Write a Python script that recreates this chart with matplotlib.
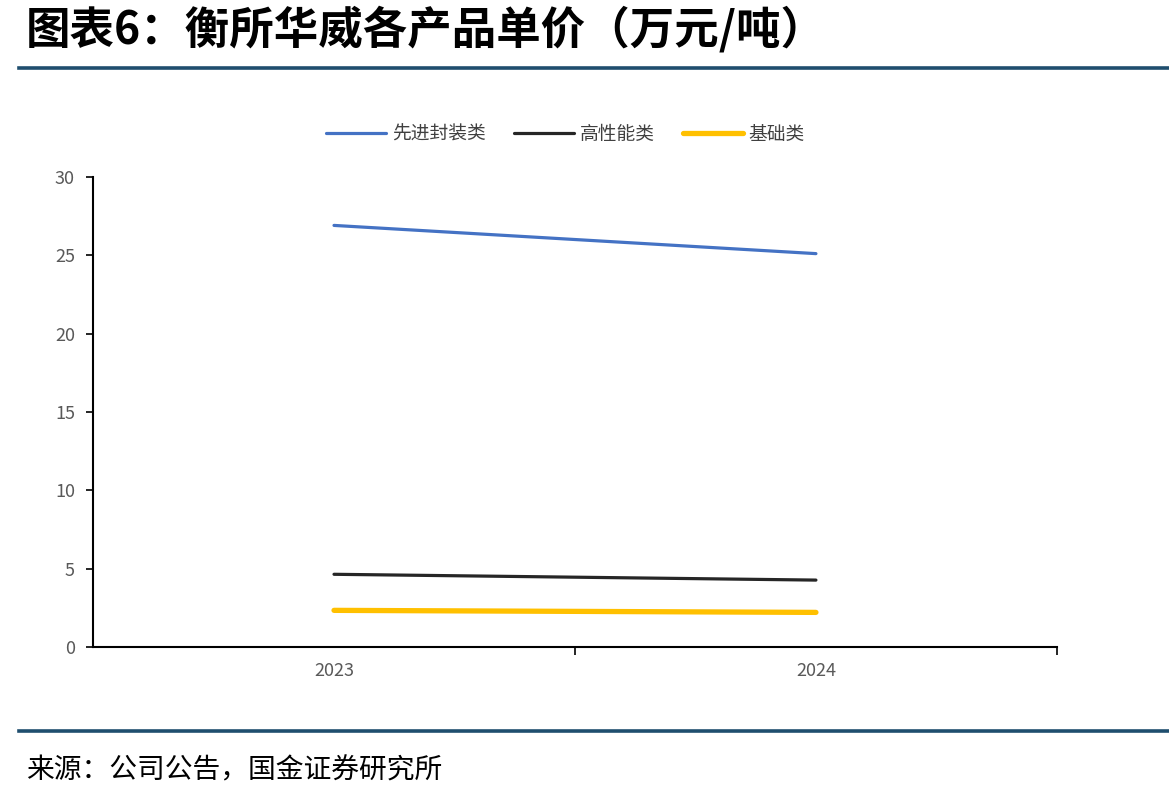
import matplotlib
matplotlib.use('Agg')
import matplotlib.pyplot as plt
from matplotlib.lines import Line2D

plt.rcParams['font.family'] = ['Noto Sans CJK SC', 'DejaVu Sans']

years = ['2023', '2024']
advanced = [26.9, 25.1]     # 先进封装类
high_perf = [4.65, 4.28]    # 高性能类
basic = [2.35, 2.22]        # 基础类

fig = plt.figure(figsize=(11.69, 8.0), dpi=100)
ax = fig.add_axes([0.0796, 0.191, 0.8245, 0.588])

x = range(len(years))
ax.plot(x, advanced, color='#4472C4', lw=2.3, label='先进封装类', solid_capstyle='round')
ax.plot(x, high_perf, color='#262626', lw=2.3, label='高性能类', solid_capstyle='round')
ax.plot(x, basic, color='#FFC000', lw=3.8, label='基础类', solid_capstyle='round')

ax.set_xlim(-0.5, 1.5)
ax.set_ylim(0, 30)
ax.set_yticks([0, 5, 10, 15, 20, 25, 30])
ax.set_xticks([0.5, 1.5])
ax.set_xticklabels([])
ax.set_xticks(list(x), minor=True)
ax.set_xticklabels(years, minor=True)
ax.tick_params(axis='x', which='minor', length=0, pad=11)
ax.tick_params(axis='x', which='major', length=6, width=1.2, color='black')
ax.tick_params(axis='y', length=5, width=1.2, pad=8)
ax.tick_params(labelsize=13, labelcolor='#595959')
for lab in ax.get_xticklabels(minor=True):
    lab.set_fontsize(13)
    lab.set_color('#595959')
for s in ['top', 'right']:
    ax.spines[s].set_visible(False)
for s in ['left', 'bottom']:
    ax.spines[s].set_linewidth(1.5)

ax.legend(loc='center', bbox_to_anchor=(0.49, 1.09), ncol=3, frameon=False,
          fontsize=13.5, handlelength=3.2, columnspacing=1.5, handletextpad=0.3,
          labelcolor='#404040')

fig.text(0.022, 0.962, '图表6：衡所华威各产品单价（万元/吨）', fontsize=32,
         fontweight='bold', style='italic', va='center', ha='left')
fig.add_artist(Line2D([0.016, 1.0], [0.915, 0.915], color='#1F4E6E', lw=2.6))
fig.add_artist(Line2D([0.016, 1.0], [0.086, 0.086], color='#1F4E6E', lw=2.6))
fig.text(0.022, 0.037, '来源：公司公告，国金证券研究所', fontsize=20, va='center', ha='left')

fig.savefig('out.png', dpi=100)
